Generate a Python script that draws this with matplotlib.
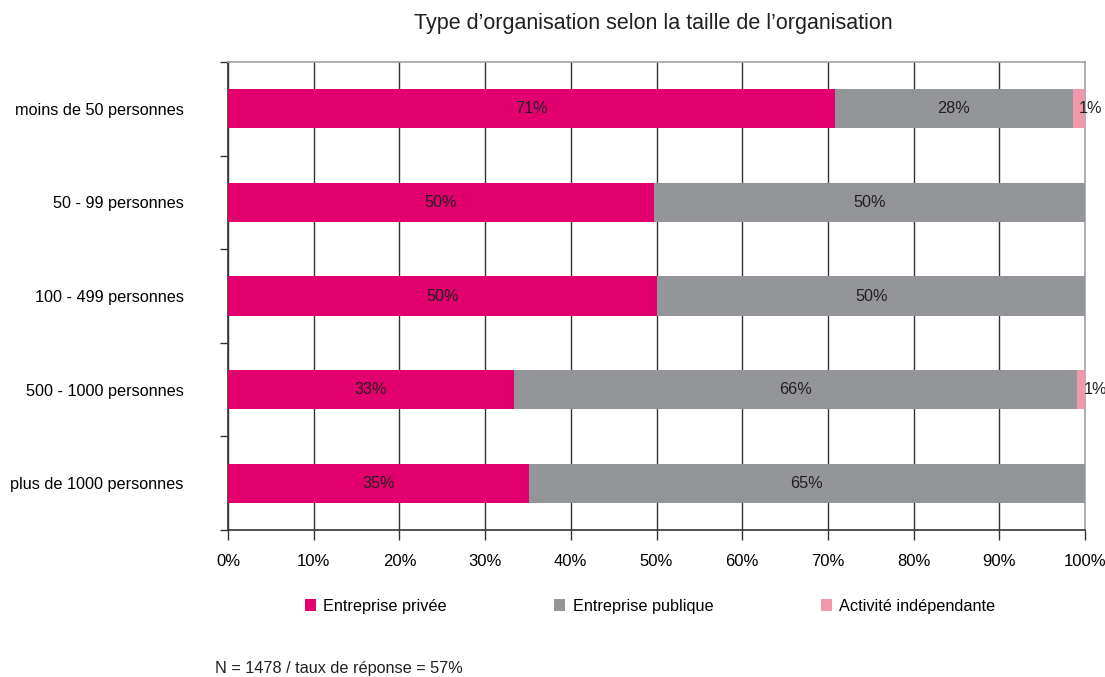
"""Type d'organisation selon la taille de l'organisation - stacked horizontal bars."""

import matplotlib

matplotlib.use("Agg")
import matplotlib.pyplot as plt
import numpy as np
from matplotlib.patches import Patch

plt.rcParams["font.family"] = ["Liberation Sans", "DejaVu Sans"]

CATEGORIES = [
    "moins de 50 personnes",
    "50 - 99 personnes",
    "100 - 499 personnes",
    "500 - 1000 personnes",
    "plus de 1000 personnes",
]
PRIVEE = [70.8, 49.7, 50.1, 33.4, 35.1]
PUBLIQUE = [27.8, 50.3, 49.9, 65.7, 64.9]
INDEPENDANTE = [1.4, 0.0, 0.0, 0.9, 0.0]
SERIES_NAMES = ["Entreprise privée", "Entreprise publique", "Activité indépendante"]
COLORS = ["#E2006F", "#939598", "#F097AA"]

TITLE = "Type d\u2019organisation selon la taille de l\u2019organisation"
FOOTNOTE = "N = 1478 / taux de réponse = 57%"

FS = 11.7

fig = plt.figure(figsize=(11.05, 6.77), dpi=100)
ax = fig.add_axes([228 / 1105, 1 - 530 / 677, 857 / 1105, 468 / 677])

y = np.arange(len(CATEGORIES))
left = np.zeros(len(CATEGORIES))
for values, color in zip([PRIVEE, PUBLIQUE, INDEPENDANTE], COLORS):
    values = np.asarray(values)
    ax.barh(y, values, left=left, height=0.42, color=color, zorder=3)
    for yi, (l, v) in enumerate(zip(left, values)):
        if v <= 0:
            continue
        label = f"{round(v)}%"
        if v < 3:
            ax.text(l + 0.7, yi, label, ha="left", va="center", fontsize=FS,
                    color="#231F20", zorder=4)
        else:
            ax.text(l + v / 2, yi, label, ha="center", va="center", fontsize=FS,
                    color="#231F20", zorder=4)
    left += values

ax.set_xlim(0, 100)
ax.set_ylim(len(CATEGORIES) - 0.5, -0.5)
ax.set_xticks(np.arange(0, 101, 10))
ax.set_xticklabels([f"{v}%" for v in range(0, 101, 10)], fontsize=12)
ax.grid(axis="x", color="#333333", linewidth=1.0, zorder=0)

ax.set_yticks(y)
ax.set_yticklabels(CATEGORIES, fontsize=FS, ha="right")
ax.tick_params(axis="y", which="major", length=0, pad=32)
ax.set_yticks(np.arange(-0.5, len(CATEGORIES)), minor=True)
ax.tick_params(axis="y", which="minor", length=6, width=1.0, color="#333333")
ax.tick_params(axis="x", length=7, width=1.0, color="#333333", pad=10)

for side in ("left", "bottom"):
    ax.spines[side].set_color("#333333")
    ax.spines[side].set_linewidth(1.2)
for side in ("top", "right"):
    ax.spines[side].set_color("#A0A3A6")
    ax.spines[side].set_linewidth(1.2)

fig.text(653 / 1105, 1 - 23 / 677, TITLE, ha="center", va="center", fontsize=15.5,
         color="#231F20")

handles = [Patch(facecolor=c, edgecolor="none") for c in COLORS]
fig.legend(handles, SERIES_NAMES, loc="center", bbox_to_anchor=(650 / 1105, 1 - 606 / 677),
           ncol=3, frameon=False, fontsize=FS, handlelength=0.7, handleheight=0.8,
           handletextpad=0.45, columnspacing=6.6)

fig.text(215 / 1105, 1 - 669 / 677, FOOTNOTE, ha="left", va="center", fontsize=FS,
         color="#231F20")

fig.savefig("out.png", dpi=100)
plt.close(fig)
